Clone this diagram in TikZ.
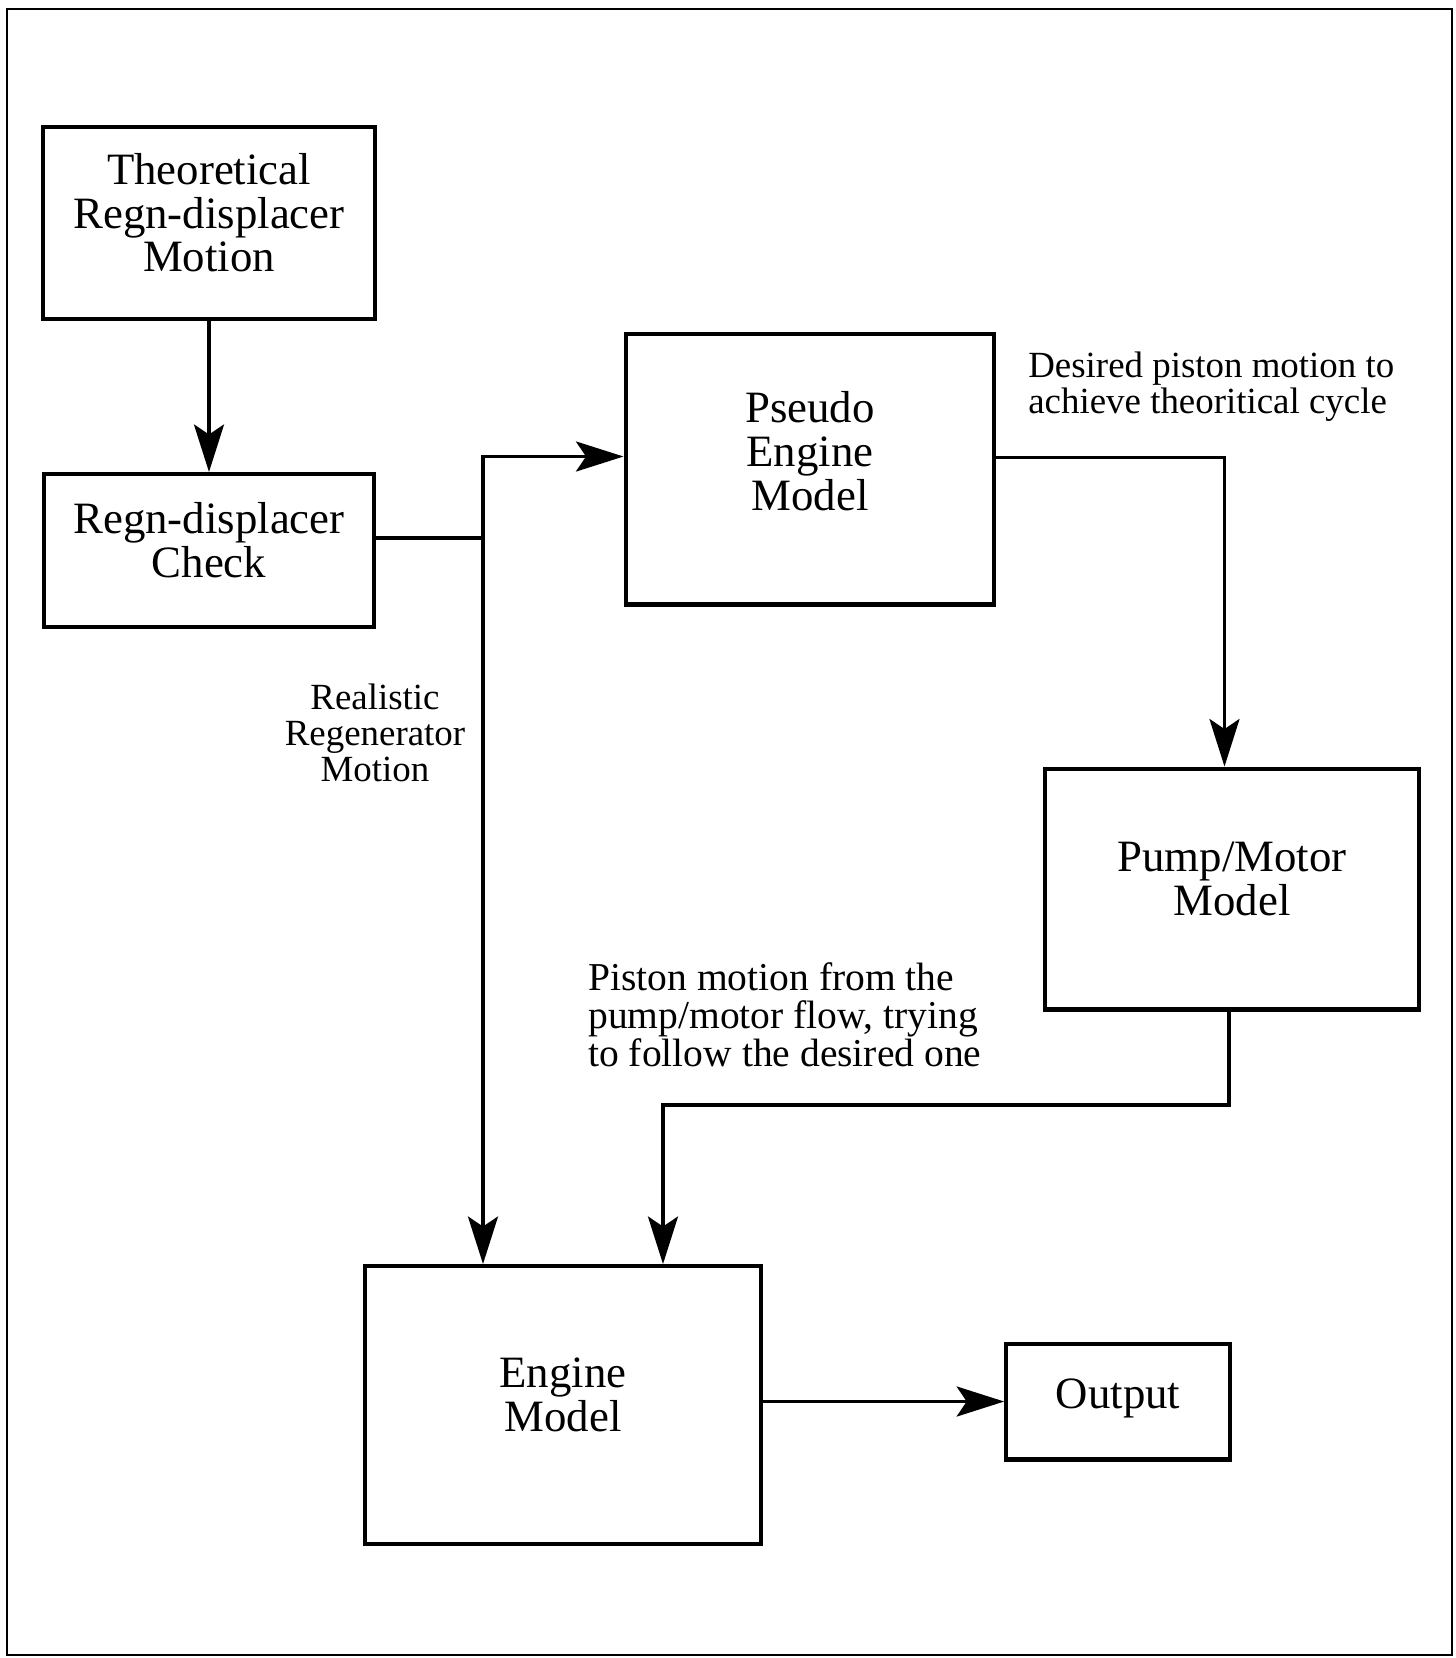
\documentclass[tikz,border=0pt]{standalone}
\usepackage{fontspec}
\setmainfont{Liberation Serif}
\usetikzlibrary{positioning,arrows.meta}

\begin{document}
\begin{tikzpicture}[x=0.02cm, y=-0.02cm,
    block/.style={draw, line width=2.3pt, align=center, inner sep=0pt, text depth=0.42cm, font=\fontsize{25.5}{25}\selectfont},
    note/.style={align=center, inner sep=0pt, font=\fontsize{21}{20.5}\selectfont},
    flow/.style={line width=2pt, -{Stealth[length=0.95cm, width=0.6cm, inset=0.2cm]}}]

    \useasboundingbox (0,0) rectangle (1455,1658);
    \draw[line width=1pt] (7,9) rectangle (1452,1655);

    \node [block, minimum width=6.66cm, minimum height=3.84cm] (theo) at (209,223) {Theoretical\\Regn-displacer\\Motion};
    \node [block, below=3.02cm of theo, minimum width=6.62cm, minimum height=3.06cm] (check) {Regn-displacer\\Check};
    \node [block, text depth=0.72cm, minimum width=7.38cm, minimum height=5.42cm] (pseudo) at (810,469) {Pseudo\\Engine\\Model};
    \node [block, minimum width=7.48cm, minimum height=4.82cm] (pump) at (1232,889) {Pump/Motor\\Model};
    \node [block, minimum width=7.93cm, minimum height=5.56cm] (engine) at (563,1405) {Engine\\Model};
    \node [block, text depth=0.31cm, right=4.82cm of engine, yshift=0.07cm, minimum width=4.48cm, minimum height=2.32cm] (output) {Output};

    % labels on the signal lines
    \node [note] (realistic) at (375,733) {Realistic\\Regenerator\\Motion};
    \node [note, align=left, anchor=west] (desired) at (1028,387) {Desired piston motion to\\achieve theoritical cycle};
    \node [note, align=left, anchor=west, font=\fontsize{22.5}{21.5}\selectfont] (piston) at (588,1015) {Piston motion from the\\pump/motor flow, trying\\to follow the desired one};

    \coordinate (split) at (483,538);
    \coordinate (bend) at (663,1105);

    \draw[flow] (theo.south) -- (check.north);
    \draw[line width=2pt] (check.east |- split) -- (split);
    \draw[flow] (split) |- ([yshift=0.25cm]pseudo.west);
    \draw[flow] (split) -- (split |- engine.north);
    \draw[flow] ([yshift=0.23cm]pseudo.east) -| ([xshift=-0.15cm]pump.north);
    \draw[flow] ([xshift=-0.06cm]pump.south) |- (bend) -- (bend |- engine.north);
    \draw[flow] (engine.east |- output.west) -- (output.west);

\end{tikzpicture}
\end{document}
